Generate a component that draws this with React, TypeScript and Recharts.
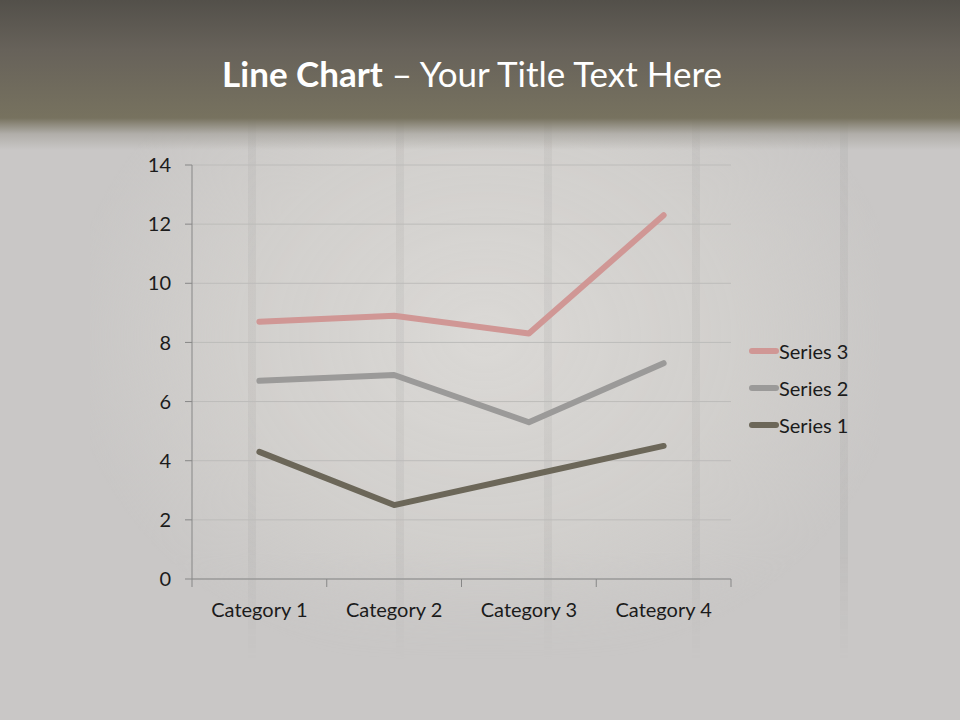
import { Area, CartesianGrid, ComposedChart, Legend, XAxis, YAxis } from "recharts";

const categories = ["Category 1", "Category 2", "Category 3", "Category 4"];
const series1 = [4.3, 2.5, 3.5, 4.5];
const series2 = [2.4, 4.4, 1.8, 2.8];
const series3 = [2, 2, 3, 5];
const yTicks = [0, 2, 4, 6, 8, 10, 12, 14];

const seriesList = [
  { key: "s1", name: "Series 1", values: series1, color: "#6c6759" },
  { key: "s2", name: "Series 2", values: series2, color: "#9b9a99" },
  { key: "s3", name: "Series 3", values: series3, color: "#d09795" },
];

const data = categories.map((name, i) => ({
  name,
  s1: series1[i],
  s2: series2[i],
  s3: series3[i],
}));

const FONT = "Lato, 'Open Sans', sans-serif";
const AXIS = "#878787";
const LEGEND_W = 140;

function CategoryTick(props: any) {
  const { x = 0, y = 0, payload, index, visibleTicksCount } = props;
  const half = payload?.offset ?? 67;
  const last = index === (visibleTicksCount ?? categories.length) - 1;
  return (
    <g>
      <line x1={x - half} y1={y - 8} x2={x - half} y2={y} stroke={AXIS} strokeWidth={1} />
      {last && (
        <line x1={x + half} y1={y - 8} x2={x + half} y2={y} stroke={AXIS} strokeWidth={1} />
      )}
      <text
        x={x}
        y={y + 30}
        textAnchor="middle"
        fill="#1b1b1b"
        fontSize={20}
        fontFamily={FONT}
      >
        {payload?.value}
      </text>
    </g>
  );
}

function LegendBox() {
  const rows = [...seriesList].reverse();
  return (
    <div style={{ fontFamily: FONT }}>
      {rows.map((s) => (
        <div
          key={s.key}
          style={{ display: "flex", alignItems: "center", height: 37 }}
        >
          <svg width={30} height={10}>
            <line
              x1={3}
              y1={5}
              x2={27}
              y2={5}
              stroke={s.color}
              strokeWidth={6}
              strokeLinecap="round"
            />
          </svg>
          <span style={{ fontSize: 20, color: "#1b1b1b" }}>{s.name}</span>
        </div>
      ))}
    </div>
  );
}

export default function App() {
  const fade =
    "linear-gradient(180deg, rgba(0,0,0,1) 0%, rgba(0,0,0,1) 80%, rgba(0,0,0,0) 100%)";
  return (
    <div
      style={{
        position: "absolute",
        left: 0,
        top: 0,
        width: 960,
        height: 720,
        overflow: "hidden",
        background: "#c9c7c6",
      }}
    >
      {/* wood-ish backdrop */}
      <div
        style={{
          position: "absolute",
          left: 90,
          top: 120,
          width: 790,
          height: 540,
          background:
            "repeating-linear-gradient(90deg, rgba(0,0,0,0) 0px, rgba(0,0,0,0) 140px, rgba(120,120,120,0.09) 140px, rgba(120,120,120,0.09) 148px), radial-gradient(ellipse at 50% 40%, rgba(218,216,213,1) 0%, rgba(210,208,205,0.9) 45%, rgba(201,199,198,0) 75%)",
          backgroundPosition: "18px 0, 0 0",
          WebkitMaskImage: fade,
          maskImage: fade,
        }}
      />
      <div
        style={{
          position: "absolute",
          left: 0,
          top: 0,
          width: 960,
          height: 150,
          background:
            "linear-gradient(180deg, #53504a 0px, #67625a 50px, #77725f 118px, rgba(160,157,150,0.6) 134px, rgba(200,198,195,0) 150px)",
        }}
      />
      <div
        style={{
          position: "absolute",
          left: 0,
          top: 52,
          width: 944,
          textAlign: "center",
          color: "#ffffff",
          fontFamily: FONT,
          fontSize: 35,
        }}
      >
        <b>Line Chart</b> – Your Title Text Here
      </div>
      <div style={{ position: "absolute", left: 0, top: 0 }}>
        <ComposedChart
          width={960}
          height={720}
          data={data}
          margin={{ top: 165, right: 229 - LEGEND_W, bottom: 111, left: 132 }}
        >
          <CartesianGrid vertical={false} stroke="#bdbcba" strokeWidth={1} />
          <XAxis
            dataKey="name"
            scale="band"
            tick={<CategoryTick />}
            tickLine={false}
            axisLine={{ stroke: AXIS }}
            height={30}
            interval={0}
          />
          <YAxis
            domain={[0, 14]}
            ticks={yTicks}
            width={60}
            tickSize={7}
            tickMargin={14}
            axisLine={{ stroke: AXIS }}
            tickLine={{ stroke: AXIS }}
            tick={{ fill: "#1b1b1b", fontSize: 20, fontFamily: FONT }}
          />
          {seriesList.map((s) => (
            <Area
              key={s.key}
              type="linear"
              dataKey={s.key}
              name={s.name}
              stackId="total"
              stroke={s.color}
              strokeWidth={6}
              strokeLinecap="round"
              strokeLinejoin="round"
              fill="none"
              dot={false}
              activeDot={false}
              isAnimationActive={false}
            />
          ))}
          <Legend
            layout="horizontal"
            verticalAlign="middle"
            align="right"
            content={<LegendBox />}
            wrapperStyle={{ position: "absolute", left: 749, top: 332, width: LEGEND_W }}
          />
        </ComposedChart>
      </div>
    </div>
  );
}
